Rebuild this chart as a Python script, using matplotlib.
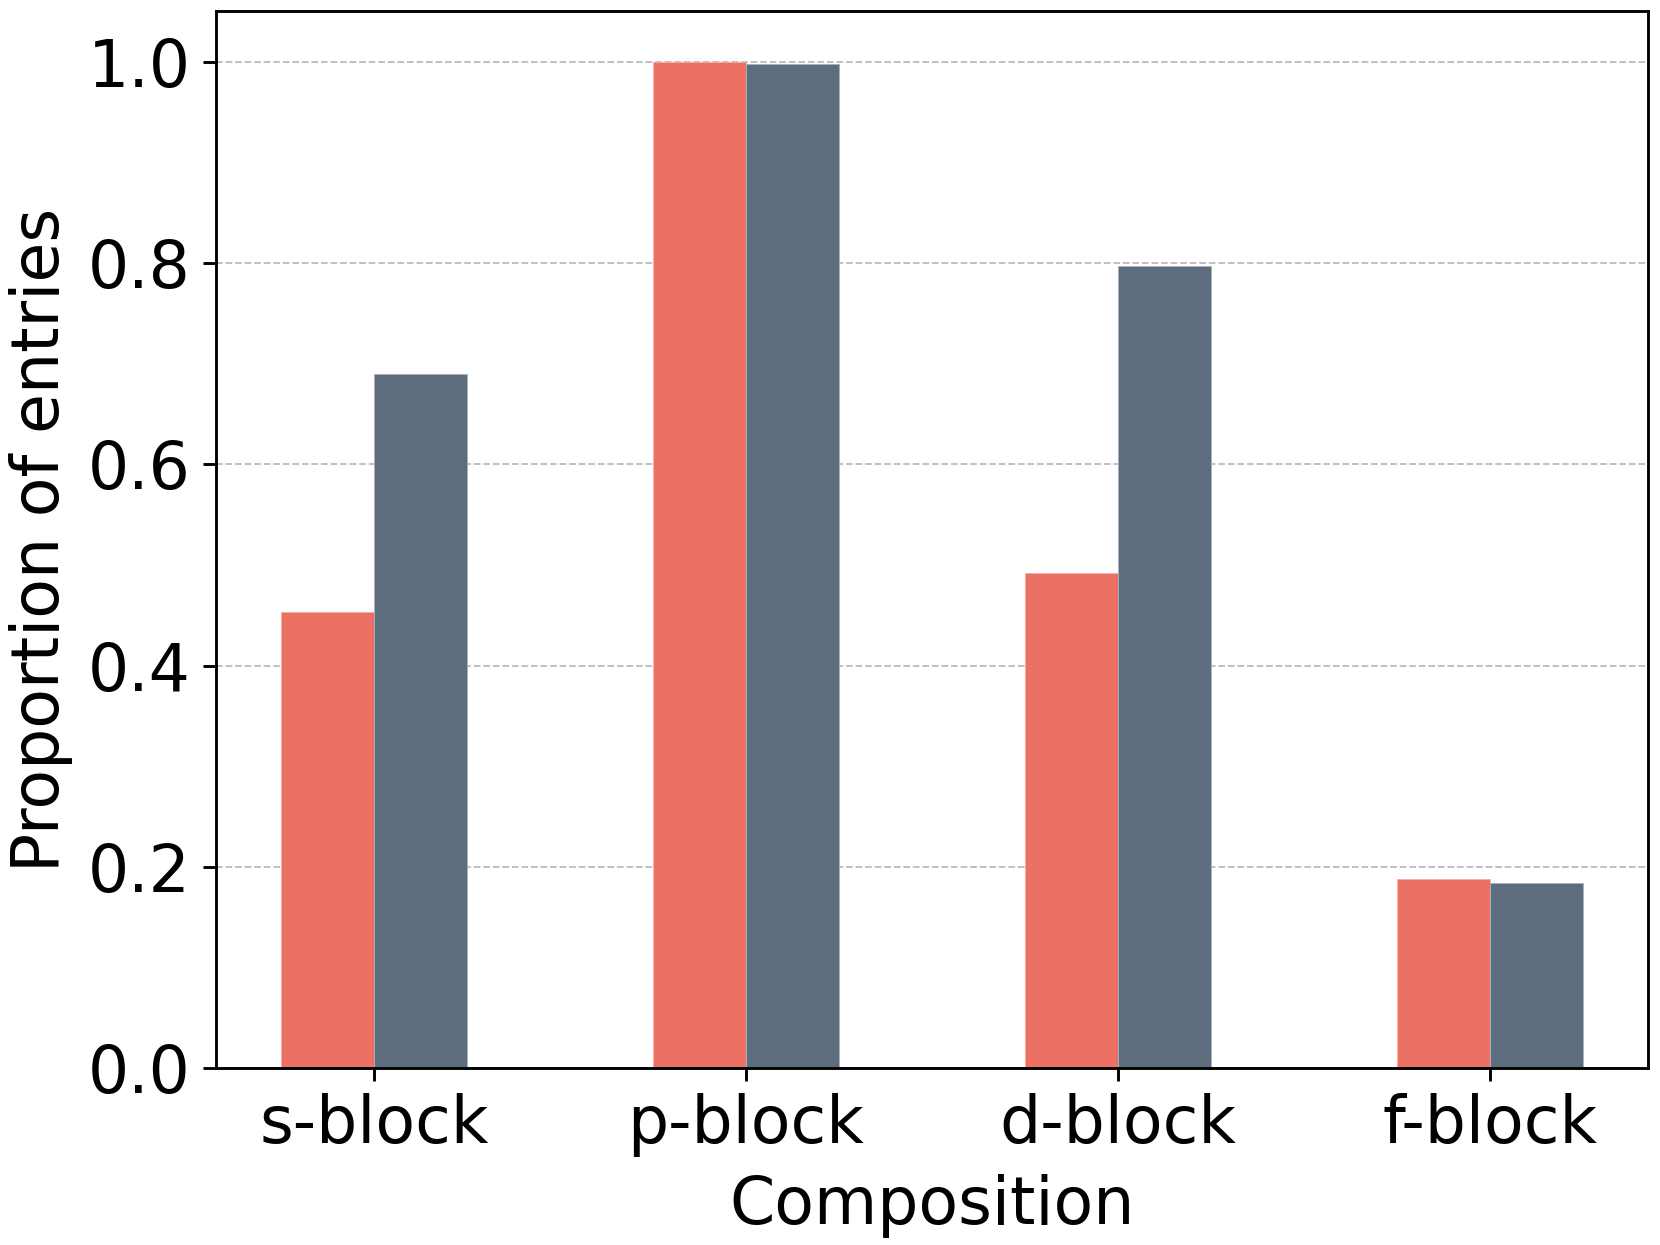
import numpy as np
import matplotlib
matplotlib.use('Agg')
import matplotlib.pyplot as plt

categories = ['s-block', 'p-block', 'd-block', 'f-block']
series_a = [0.453, 1.000, 0.492, 0.188]
series_b = [0.690, 0.998, 0.797, 0.184]

fig = plt.figure(figsize=(6.4, 4.8), dpi=259.375)
ax = fig.add_axes([0.130, 0.142, 0.863, 0.849])

x = np.arange(len(categories))
width = 0.25
ax.bar(x - width / 2, series_a, width, color='#EC7063',
       edgecolor='#f0b0a8', linewidth=0.25)
ax.bar(x + width / 2, series_b, width, color='#5D6D7E',
       edgecolor='#a8b2bd', linewidth=0.25)

ax.set_axisbelow(True)
ax.yaxis.grid(True, linestyle='--', color='#bbbbbb', linewidth=0.5)
ax.set_ylim(0, 1.05)
ax.set_xticks(x)
ax.set_xticklabels(categories)
ax.tick_params(labelsize=18)
ax.set_xlabel('Composition', fontsize=18, labelpad=4.5)
ax.set_ylabel('Proportion of entries', fontsize=18)

fig.savefig('out.png', dpi=259.375)
